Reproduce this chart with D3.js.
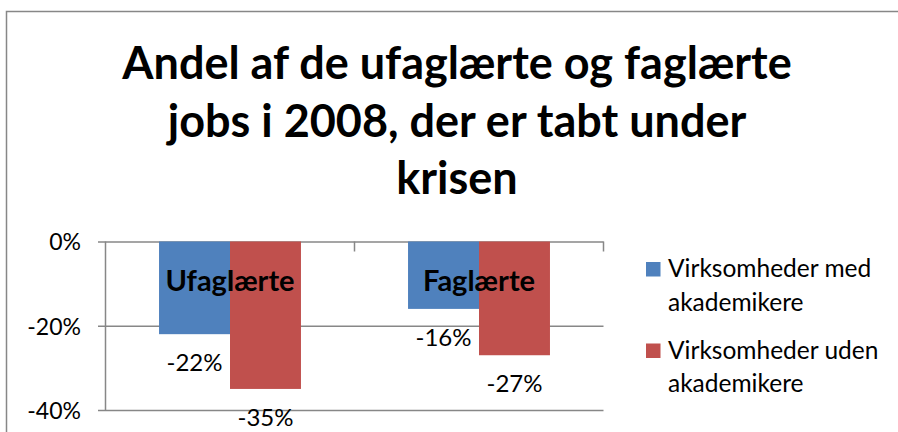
<!DOCTYPE html>
<html>
<head>
<meta charset="utf-8">
<script src="https://cdn.jsdelivr.net/npm/d3@7"></script>
<style>
  body { margin: 0; background: white; }
  text { font-family: Lato, "Open Sans", sans-serif; fill: #000; }
</style>
</head>
<body>
<script>
const categories = ['Ufaglærte', 'Faglærte']
const seriesNames = ['Virksomheder med akademikere', 'Virksomheder uden akademikere']
const medAkademikere = [-0.22, -0.16]
const udenAkademikere = [-0.35, -0.27]
const valueLabels = [['-22%', '-16%'], ['-35%', '-27%']]
const yTicks = [0, -0.2, -0.4]
const yTickLabels = ['0%', '-20%', '-40%']
const titleLines = ['Andel af de ufaglærte og faglærte', 'jobs i 2008, der er tabt under', 'krisen']
const legendLines = [['Virksomheder med', 'akademikere'], ['Virksomheder uden', 'akademikere']]
const colors = ['#4F81BD', '#C0504D']

const width = 898
const height = 432
const plot = {left: 105.5, right: 603.5, top: 241.5, bottom: 410}

const svg = d3.select('body').append('svg')
    .attr('width', width)
    .attr('height', height)

// outer chart border
svg.append('rect')
    .attr('x', 6.5).attr('y', 11.5)
    .attr('width', width + 20).attr('height', height + 20)
    .style('fill', 'none')
    .style('stroke', '#878787')
    .style('stroke-width', 1.5)

// title
svg.append('g').selectAll('text')
    .data(titleLines)
    .join('text')
    .attr('x', 457)
    .attr('y', (d, i) => 79 + i * 57.5)
    .attr('text-anchor', 'middle')
    .style('font-size', '45px')
    .style('font-weight', 'bold')
    .text(d => d)

const xScale = d3.scaleBand()
    .domain(categories)
    .range([plot.left, plot.right])

const groupWidth = xScale.bandwidth() * 0.57
const xInner = d3.scaleBand()
    .domain(d3.range(seriesNames.length))
    .range([0, groupWidth])

const yScale = d3.scaleLinear()
    .domain([-0.4, 0])
    .range([plot.bottom, plot.top])

// gridlines + y axis
const yAxis = d3.axisLeft(yScale)
    .tickValues(yTicks)
    .tickSize(0)
    .tickFormat((d, i) => yTickLabels[i])

const yg = svg.append('g')
    .call(yAxis)
yg.select('.domain').remove()
yg.selectAll('.tick line')
    .attr('x1', plot.left - 7.5)
    .attr('x2', plot.right)
    .style('stroke', '#878787')
    .style('stroke-width', 1.5)
yg.selectAll('.tick text')
    .attr('x', 81)
    .attr('dy', '0.36em')
    .style('font-size', '23px')
    .style('font-family', 'Lato, sans-serif')
    .style('fill', '#000')

svg.append('line')
    .attr('x1', plot.left).attr('x2', plot.left)
    .attr('y1', plot.top).attr('y2', plot.bottom)
    .style('stroke', '#878787')
    .style('stroke-width', 1.5)

// category tick marks hanging from the zero line
const catTicks = categories.map(c => xScale(c) + xScale.bandwidth())
svg.append('g').selectAll('line')
    .data(catTicks)
    .join('line')
    .attr('x1', d => d).attr('x2', d => d)
    .attr('y1', yScale(0)).attr('y2', yScale(0) + 10)
    .style('stroke', '#878787')
    .style('stroke-width', 1.5)

const seriesData = [medAkademikere, udenAkademikere]
const offset = (xScale.bandwidth() - groupWidth) / 2

seriesData.forEach((vals, s) => {
    svg.append('g').selectAll('rect')
        .data(vals)
        .join('rect')
        .attr('x', (d, i) => xScale(categories[i]) + offset + xInner(s))
        .attr('y', yScale(0))
        .attr('width', xInner.bandwidth())
        .attr('height', d => yScale(d) - yScale(0))
        .style('fill', colors[s])

    svg.append('g').selectAll('text')
        .data(vals)
        .join('text')
        .attr('x', (d, i) => xScale(categories[i]) + offset + xInner(s) + xInner.bandwidth() / 2)
        .attr('y', d => yScale(d) + 37)
        .attr('text-anchor', 'middle')
        .style('font-size', '24px')
        .text((d, i) => valueLabels[s][i])
})

// category labels (drawn over the bars)
svg.append('g').selectAll('text')
    .data(categories)
    .join('text')
    .attr('x', d => xScale(d) + xScale.bandwidth() / 2)
    .attr('y', 291)
    .attr('text-anchor', 'middle')
    .style('font-size', '29px')
    .style('font-weight', 'bold')
    .text(d => d)

// legend
const legend = svg.append('g').selectAll('g')
    .data(seriesNames)
    .join('g')
    .attr('transform', (d, i) => `translate(646,${262 + i * 81.5})`)

legend.append('rect')
    .attr('width', 14.5).attr('height', 14.5)
    .style('fill', (d, i) => colors[i])

legend.each(function (d, i) {
    d3.select(this).selectAll('text')
        .data(legendLines[i])
        .join('text')
        .attr('x', 22)
        .attr('y', (t, j) => 15 + j * 33.5)
        .style('font-size', '24.5px')
        .text(t => t)
})
</script>
</body>
</html>
